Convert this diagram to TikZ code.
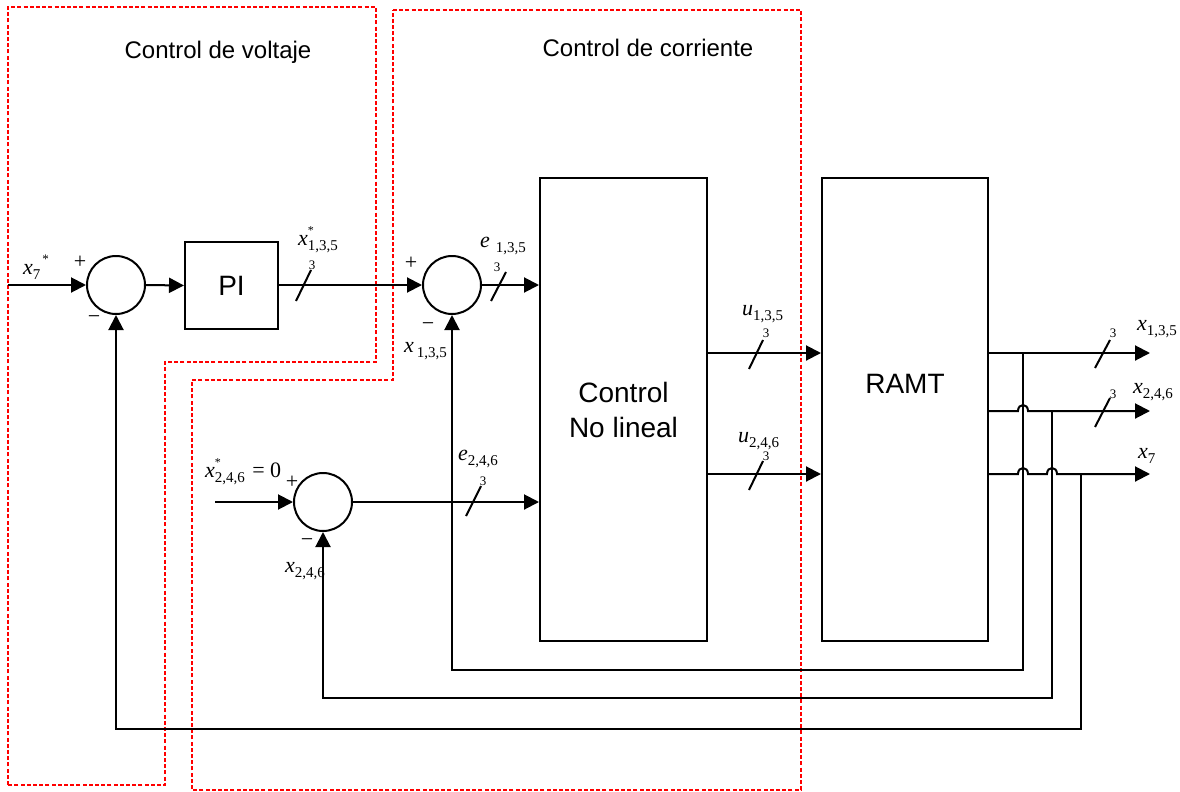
\documentclass[tikz,border=0pt]{standalone}
\usepackage{fontspec}
\setmainfont{Liberation Serif}
\setsansfont{Liberation Sans}
\usetikzlibrary{arrows.meta}
\newcommand{\vr}[4][0pt]{\textit{#2}\hspace*{#1}\rlap{\raisebox{11pt}{\fontsize{12}{12}\selectfont #4}}\raisebox{-5pt}{\fontsize{15}{15}\selectfont #3}}
\tikzset{
 wire/.style={line width=2pt},
 arr/.style={wire, -{Triangle[length=15pt,width=15pt]}},
 sum/.style={circle, draw, line width=2pt, minimum size=58pt, inner sep=0pt},
 blk/.style={draw, line width=2pt, inner sep=0pt, font=\sffamily\fontsize{28}{35}\selectfont, align=center},
 zone/.style={draw=red, line width=2pt, dash pattern=on 4pt off 2.2pt},
 ttl/.style={font=\sffamily\fontsize{24}{28}\selectfont, inner sep=0pt},
 lbl/.style={font=\fontsize{22}{24}\selectfont, inner sep=0pt, anchor=base west},
 three/.style={font=\fontsize{13}{13}\selectfont, inner sep=0pt},
 sgn/.style={font=\fontsize{22}{22}\selectfont, inner sep=0pt},
 slash/.style={line width=2pt},
}
\begin{document}
\begin{tikzpicture}[x=1pt,y=-1pt]
\useasboundingbox (0,0) rectangle (1180,792);
% zones
\draw[zone] (8,785) -- (8,7) -- (376,7) -- (376,362) -- (165,362) -- (165,785) -- cycle;
\draw[zone] (393,10) -- (801,10) -- (801,790) -- (192,790) -- (192,380) -- (393,380) -- cycle;
\node[ttl] (t1) at (218,52) {Control de voltaje};
\node[ttl] (t2) at (648,48) {Control de corriente};
% blocks
\node[sum] (s1) at (116,285) {};
\node[sum] (s2) at (452,285) {};
\node[sum] (s3) at (323,502) {};
\node[blk, minimum width=93pt, minimum height=87pt] (pi) at (231.5,285.5) {PI};
\node[blk, minimum width=167pt, minimum height=463pt] (ctrl) at (623.5,409.5) {Control\\No lineal};
\node[blk, minimum width=166pt, minimum height=463pt] (ramt) at (905,409.5) {};
\node[font=\sffamily\fontsize{28}{35}\selectfont, inner sep=0pt] (ramtl) at (905,384) {RAMT};
% coordinates
\coordinate (in1) at (8,285);
\coordinate (in3) at (215,502);
\coordinate (yu1) at (0,353);
\coordinate (yu2) at (0,474);
\coordinate (yo1) at (0,353);
\coordinate (yo2) at (0,411);
\coordinate (yo3) at (0,474);
\coordinate (o1) at (1150,353);
\coordinate (o2) at (1150,411);
\coordinate (o3) at (1150,474);
\coordinate (j1) at (1023,353);
\coordinate (j2) at (1052,411);
\coordinate (j3) at (1081,474);
\coordinate (b1) at (1023,670);
\coordinate (b2) at (1052,698);
\coordinate (b3) at (1081,729);
% connectors
\draw[arr] (in1) -- (s1.west);
\draw[arr] (s1.east) -- (pi.west);
\draw[arr] (pi.east |- s2.west) -- (s2.west);
\draw[arr] (s2.east) -- (ctrl.west |- s2.east);
\draw[arr] (in3) -- (s3.west);
\draw[arr] (s3.east) -- (ctrl.west |- s3.east);
\draw[arr] (ctrl.east |- yu1) -- (ramt.west |- yu1);
\draw[arr] (ctrl.east |- yu2) -- (ramt.west |- yu2);
\draw[arr] (ramt.east |- yo1) -- (o1);
\draw[arr] (ramt.east |- yo2) -- (1018,411) .. controls (1018,403) and (1028,403) .. (1028,411) -- (o2);
\draw[arr] (ramt.east |- yo3) -- (1018,474) .. controls (1018,466) and (1028,466) .. (1028,474) -- (1047,474) .. controls (1047,466) and (1057,466) .. (1057,474) -- (o3);
\draw[arr] (j1) -- (b1) -| (s2.south);
\draw[arr] (j2) -- (b2) -| (s3.south);
\draw[arr] (j3) -- (b3) -| (s1.south);
% slashes
\draw[slash] (296,301) -- (311,270);
\draw[slash] (491,301) -- (506,272);
\draw[slash] (466,516) -- (481,486);
\draw[slash] (749,369) -- (763,340);
\draw[slash] (749,490) -- (763,461);
\draw[slash] (1095,368) -- (1110,340);
\draw[slash] (1095,427) -- (1110,398);
\node[three] (n1) at (312,265) {3};
\node[three] (n2) at (497,267) {3};
\node[three] (n3) at (483,481) {3};
\node[three] (n4) at (766,333) {3};
\node[three] (n5) at (766,456) {3};
\node[three] (n6) at (1113,333) {3};
\node[three] (n7) at (1113,394) {3};
% signs
\node[sgn] (p1) at (80,262) {+};
\node[sgn] (m1) at (94,320) {−};
\node[sgn] (p2) at (411,263) {+};
\node[sgn] (m2) at (428,327) {−};
\node[sgn] (p3) at (292,482) {+};
\node[sgn] (m3) at (307,543) {−};
% labels
\node[lbl] (l1) at (23,274) {\textit{x}\raisebox{-5pt}{\fontsize{15}{15}\selectfont 7}\hspace*{2pt}\raisebox{11pt}{\fontsize{13}{13}\selectfont *}};
\node[lbl] (l2) at (298,245) {\vr{x}{1,3,5}{*}};
\node[lbl] (l3) at (480,247) {\vr[6pt]{e}{1,3,5}{}};
\node[lbl] (l4) at (404,352) {\vr[3pt]{x}{1,3,5}{}};
\node[lbl] (l5) at (205,477) {\vr{x}{2,4,6}{*}\,\,= 0};
\node[lbl] (l6) at (285,572) {\vr{x}{2,4,6}{}};
\node[lbl] (l7) at (458,460) {\vr{e}{2,4,6}{}};
\node[lbl] (l8) at (742,315) {\vr{u}{1,3,5}{}};
\node[lbl] (l9) at (738,442) {\vr{u}{2,4,6}{}};
\node[lbl] (l10) at (1137,330) {\vr{x}{1,3,5}{}};
\node[lbl] (l11) at (1133,393) {\vr{x}{2,4,6}{}};
\node[lbl] (l12) at (1138,458) {\vr{x}{7}{}};
\end{tikzpicture}
\end{document}
